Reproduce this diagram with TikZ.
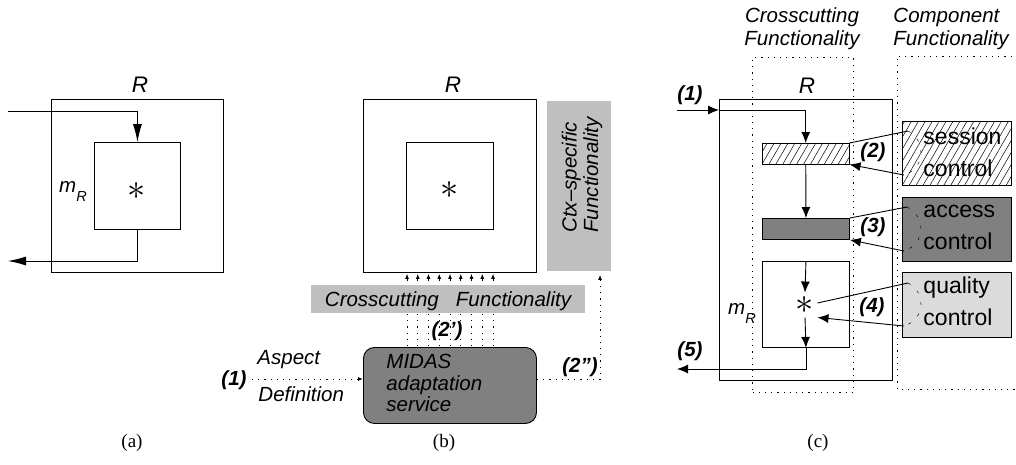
\documentclass[tikz,border=0pt]{standalone}
\usepackage{fontspec}
\setmainfont{Liberation Sans}
\newfontfamily\capfont{Liberation Serif}
\usetikzlibrary{arrows.meta,patterns.meta,calc}
\definecolor{lgray}{gray}{0.75}
\definecolor{dgray}{gray}{0.5}
\definecolor{qgray}{gray}{0.86}
\begin{document}
\begin{tikzpicture}[x=1pt,y=-1pt,line width=0.9pt,
  font=\fontsize{20.5}{21.5}\selectfont\itshape,
  box/.style={draw, inner sep=0pt, anchor=north west},
  arrA/.style={-{Latex[length=18pt,width=9pt]}},
  arrC/.style={-{Latex[length=11pt,width=9pt]}},
  arrS/.style={-{Latex[length=5pt,width=4pt]}},
  dotl/.style={line width=1pt,dash pattern=on 1.2pt off 5pt},
  dashc/.style={line width=0.5pt,dash pattern=on 3pt off 9pt},
  txt/.style={inner sep=0pt},
  rlbl/.style={inner sep=0pt,font=\fontsize{22.5}{22.5}\selectfont\itshape},
  lbl/.style={inner sep=0pt,font=\fontsize{20.5}{21.5}\selectfont\bfseries\itshape},
  comp/.style={inner sep=0pt,anchor=west,align=left,font=\fontsize{23}{32}\selectfont\upshape},
  hatch/.style={pattern={Lines[angle=60,distance=6pt,line width=0.5pt]}},
  starn/.style={inner sep=0pt,minimum size=24pt,font=\fontsize{20}{20}\selectfont\upshape},
  captxt/.style={inner sep=0pt,font=\fontsize{19}{19}\selectfont\capfont\upshape}]
\useasboundingbox (0,0) rectangle (1016,464);
\newcommand{\bigast}{\scalebox{1.75}{$\ast$}}

% ---------- panel (a)
\node[box, minimum width=172pt, minimum height=173pt] (Ra) at (51,99) {};
\node[box, minimum width=86pt, minimum height=87pt] (ma) at (94,142) {};
\node[rlbl] (Ral) at (140,85) {R};
\node[starn] (sa) at (137,191) {\bigast};
\node[txt] (mal) at (73,191) {m\raisebox{-9pt}{\fontsize{14.5}{14.5}\selectfont R}};
\coordinate (ina) at (8,111);
\coordinate (outa) at (8,261);
\draw[arrA] (ina) -| (ma.north);
\draw[arrA] (ma.south) |- (outa);
\node[captxt] (capa) at (132,443) {(a)};

% ---------- panel (b)
\node[box, minimum width=173pt, minimum height=173pt] (Rb) at (363,99) {};
\node[box, minimum width=87pt, minimum height=87pt] (mb) at (406,142) {};
\node[rlbl] (Rbl) at (453,85) {R};
\node[starn] (sb) at (450,190) {\bigast};
\node[inner sep=0pt, anchor=north west, fill=lgray, minimum width=64pt, minimum height=170pt] (ctx) at (547,101) {};
\node[txt, rotate=90, align=left] (ctxt) at (582,175) {Ctx--specific\\Functionality};
\node[inner sep=0pt, anchor=north west, fill=lgray, minimum width=274pt, minimum height=28pt] (cross) at (311,285) {};
\node[txt, anchor=base] (crosst) at (448,306) {Crosscutting\ \ \ Functionality};
\node[box, fill=dgray, rounded corners=11pt, minimum width=173pt, minimum height=76pt] (midas) at (363,347) {};
\node[txt, anchor=north west, align=left] (midast) at (386,354) {MIDAS\\adaptation\\service};
\foreach \i in {0,...,8}{
  \draw[arrS, line width=0.8pt] ([xshift=96pt+\i*10.75pt, yshift=4pt]cross.north west) -- ([xshift=44pt+\i*10.75pt, yshift=-1pt]Rb.south west);
  \draw[dotl] ([xshift=96pt+\i*10.75pt]cross.south west) -- ([xshift=44pt+\i*10.75pt]midas.north west);
}
\node[lbl] (l2p) at (447,331) {(2')};
\node[txt, anchor=west] (asp) at (257,360) {Aspect};
\node[txt, anchor=west] (defn) at (258,394) {Definition};
\node[lbl] (l1b) at (234,380) {(1)};
\coordinate (aspin) at (252,379);
\draw[dotl, arrS] (aspin) -- (midas.west |- aspin);
\coordinate (c2) at (600,379);
\draw[dotl, arrS] (midas.east |- c2) -- (c2) -- ([yshift=-3pt]c2 |- ctx.south);
\node[lbl] (l2pp) at (580,367) {(2\char"22)};
\node[captxt] (capb) at (444,443) {(b)};

% ---------- panel (c)
\node[txt, align=center, font=\fontsize{20.5}{23}\selectfont\itshape] (h1) at (802,29) {Crosscutting\\Functionality};
\node[txt, anchor=west, align=left, font=\fontsize{20.5}{23}\selectfont\itshape] (h2) at (893,29) {Component\\Functionality};
\node[draw, dotl, inner sep=0pt, anchor=north west, minimum width=101pt, minimum height=335pt] (ccb) at (752,57) {};
\coordinate (cmpa) at (1018,56);
\coordinate (cmpb) at (1018,389);
\draw[dotl] (cmpa) -- (897,56) -- (897,389) -- (cmpb);
\node[box, minimum width=173pt, minimum height=281pt] (Rc) at (719,99) {};
\node[rlbl] (Rcl) at (807,86) {R};
\node[box, hatch, minimum width=87pt, minimum height=21pt] (hb) at (762,143) {};
\node[box, fill=dgray, minimum width=87pt, minimum height=21pt] (db) at (762,218) {};
\node[box, minimum width=87pt, minimum height=86pt] (mc) at (762,261) {};
\node[starn] (sc) at (805,305) {\bigast};
\node[txt] (mcl) at (742,313) {m\raisebox{-9pt}{\fontsize{14.5}{14.5}\selectfont R}};
\node[box, hatch, minimum width=109pt, minimum height=64pt] (sess) at (902,121) {};
\node[box, fill=dgray, minimum width=109pt, minimum height=64pt] (acc) at (902,197) {};
\node[box, fill=qgray, minimum width=109pt, minimum height=65pt] (qual) at (902,272) {};
\node[comp] (sesst) at (923,152) {session\\control};
\node[comp] (acct) at (923,227) {access\\control};
\node[comp] (qualt) at (923,301) {quality\\control};
\coordinate (inc) at (677,110);
\coordinate (outc) at (677,369);
\draw[arrC] (inc) -- (Rc.west |- inc);
\draw[arrC] (Rc.west |- inc) -| (hb.north);
\draw[arrC] (hb.south) -- (db.north);
\draw[arrC] (mc.north) -- (sc.north);
\draw[arrC] (sc.south) -- (mc.south);
\draw[arrC] (mc.south) |- (outc);
% session loop
\coordinate (s1) at (908,131);
\coordinate (s2) at (904,175);
\draw (hb.north east) -- (s1);
\draw[dashc] (s1) .. controls (926,140) and (926,168) .. (s2);
\draw[arrC] (s2) -- (hb.south east);
% access loop
\coordinate (a1) at (907,207);
\coordinate (a2) at (904,251);
\draw (db.north east) -- (a1);
\draw[dashc] (a1) .. controls (926,216) and (926,244) .. (a2);
\draw[arrC] (a2) -- (db.south east);
% quality loop
\coordinate (q1) at (908,283);
\coordinate (q2) at (904,326);
\draw ([yshift=2pt]sc.east) -- (q1);
\draw[dashc] (q1) .. controls (926,292) and (926,319) .. (q2);
\draw[arrC] (q2) -- (sc.south east);
\node[lbl] (l1c) at (690,95) {(1)};
\node[lbl] (l2c) at (873,152) {(2)};
\node[lbl] (l3c) at (873,227) {(3)};
\node[lbl] (l4c) at (872,307) {(4)};
\node[lbl] (l5c) at (690,351) {(5)};
\node[captxt] (capc) at (818,443) {(c)};
\end{tikzpicture}
\end{document}
